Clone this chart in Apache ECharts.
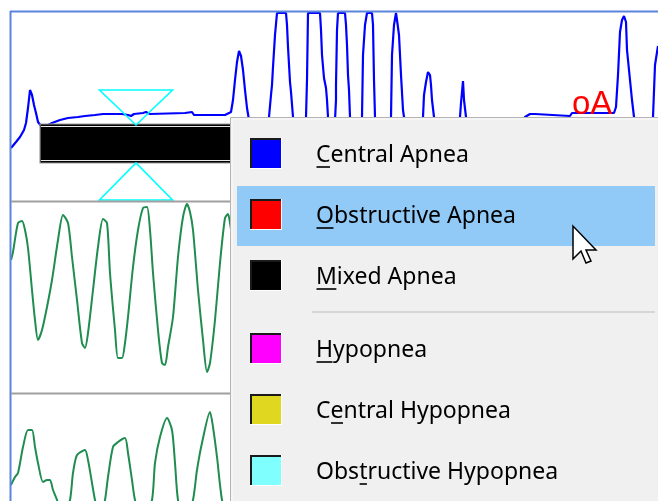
<!DOCTYPE html>
<html>
<head>
<meta charset="utf-8">
<script src="https://cdn.jsdelivr.net/npm/echarts@6/dist/echarts.min.js"></script>
<style>
html,body{margin:0;padding:0;background:#fff;}
#chart{width:658px;height:501px;}
</style>
</head>
<body>
<div id="chart"></div>
<script>
// ---- data (time in samples, amplitude in arbitrary units) ----
const flowSignal = [[1,-42],[6,-36],[10,-31],[14,-24],[16,-17],[18,-2],[20,16],[21,18],[22,11],[24,1],[26,-7],[28,-16],[31,-20],[36,-20],[42,-17],[50,-14],[58,-12],[68,-11],[75,-10],[85,-9],[93,-8],[112,-8],[118,-9],[121,-10],[124,-8],[133,-7],[136,-6],[140,-8],[175,-7],[175,-6],[182,-6],[184,-9],[215,-9],[221,-6],[223,6],[225,26],[227,44],[229,55],[231,50],[233,36],[235,16],[237,-2],[239,-14],[242,-34],[250,-44],[256,-39],[259,-11],[261,11],[262,21],[263,39],[265,71],[267,93],[276,93],[277,81],[278,59],[280,24],[281,14],[283,-11],[286,-39],[293,-42],[296,-11],[297,26],[298,93],[310,93],[311,76],[312,51],[314,28],[316,18],[317,6],[318,-11],[321,-39],[324,-34],[326,6],[326,21],[327,76],[328,93],[335,93],[336,81],[337,61],[338,31],[339,16],[340,-11],[343,-39],[349,-39],[352,-11],[353,51],[355,81],[357,93],[362,93],[363,81],[364,26],[365,-11],[368,-39],[378,-39],[381,-11],[382,51],[384,81],[386,93],[387,86],[389,71],[391,31],[393,-4],[394,-11],[397,-39],[409,-39],[413,-11],[414,11],[416,24],[418,34],[420,31],[421,21],[422,6],[424,-11],[427,-34],[447,-34],[450,-11],[451,3],[453,25],[454,6],[456,-11],[459,-34],[510,-29],[515,-11],[517,-10],[520,-8],[525,-8],[527,-10],[560,-10],[562,-7],[604,-7],[606,-1],[608,31],[610,74],[612,86],[614,90],[616,84],[617,56],[620,26],[622,6],[624,-11],[627,-34],[640,-34],[643,-11],[645,41],[648,60]];
const thoraxSignal = [[1,37],[3,45],[8,74],[12,76],[15,67],[18,49],[22,7],[25,-23],[28,-43],[32,-33],[37,-10],[42,17],[48,57],[53,82],[58,74],[62,40],[67,-3],[72,-46],[75,-51],[78,-36],[83,7],[88,50],[93,78],[97,74],[100,24],[105,-33],[108,-61],[112,-61],[115,-46],[118,-20],[123,30],[128,67],[133,89],[137,90],[140,67],[143,24],[148,-33],[152,-66],[155,-68],[158,-50],[163,-20],[168,40],[173,80],[177,93],[180,85],[183,67],[188,7],[193,-43],[197,-75],[200,-66],[205,-23],[210,34],[215,79],[218,83],[220,74],[224,47],[228,10]];
const abdomenSignal = [[1,4],[5,12],[8,16],[13,42],[18,59],[22,59],[25,42],[28,26],[33,7],[37,9],[40,9],[43,-1],[47,-11],[53,-31],[60,-11],[63,16],[67,34],[75,39],[78,29],[82,6],[85,-11],[90,-31],[95,-11],[98,12],[103,42],[108,47],[115,51],[118,36],[122,9],[125,-11],[133,-36],[142,-11],[145,26],[150,52],[157,71],[162,59],[165,26],[168,-11],[175,-36],[183,-11],[187,19],[192,46],[200,77],[203,62],[207,32],[212,-11],[218,-31],[224,-20]];
// mixed apnea event: start, end, upper amp, lower amp
const mixedApnea = [[30, 410, -18, -57]];
// hypopnea marker: centre, width, top base, top apex, bottom apex, bottom base
const hypopneaMarker = [[126, 73, 16, -19, -57, -94]];
// event label: time, amp, text
const eventLabel = [[562, 1, 'oA']];
// context menu
const menuLabels = ['Central Apnea','Obstructive Apnea','Mixed Apnea','Hypopnea','Central Hypopnea','Obstructive Hypopnea'];
const menuColors = ['#0000ff','#ff0000','#000000','#ff00ff','#e0d820','#80ffff'];
const menuMnemonic = [0,0,0,0,1,3];
const menuHighlighted = 1;

// ---- chart ----
const chart = echarts.init(document.getElementById('chart'), null, {renderer:'canvas'});
const grids = [
  {left:10, top:11, width:648, height:190, show:false},
  {left:10, top:202, width:648, height:190, show:false},
  {left:10, top:394, width:648, height:107, show:false}
];
const yRanges = [[-95,95],[-95,95],[-12,95]];
const xAxes = grids.map((g,i) => ({type:'value', gridIndex:i, min:0, max:648, show:false}));
const yAxes = grids.map((g,i) => ({type:'value', gridIndex:i, min:yRanges[i][0], max:yRanges[i][1], show:false}));

const MENU_FONT = '23px "Noto Sans"';
const mctx = document.createElement('canvas').getContext('2d');
mctx.font = MENU_FONT;

const gfx = [];
// frame
const frameBlue = '#5b84dc';
gfx.push({type:'line', z:50, shape:{x1:10,y1:11.5,x2:658,y2:11.5}, style:{stroke:frameBlue, lineWidth:2}});
gfx.push({type:'line', z:50, shape:{x1:10.5,y1:11,x2:10.5,y2:501}, style:{stroke:frameBlue, lineWidth:2}});
gfx.push({type:'line', z:50, shape:{x1:11,y1:201.5,x2:300,y2:201.5}, style:{stroke:'#a0a0a0', lineWidth:2}});
gfx.push({type:'line', z:50, shape:{x1:11,y1:393.5,x2:300,y2:393.5}, style:{stroke:'#a0a0a0', lineWidth:2}});
// menu
const mx = 231, my = 118;
gfx.push({type:'rect', z:100, shape:{x:mx-0.5, y:my-0.5, width:460, height:420}, style:{fill:'#f0f0f0', stroke:'#b4b4b4', lineWidth:1}});
gfx.push({type:'line', z:101, shape:{x1:mx+1,y1:my+1,x2:700,y2:my+1}, style:{stroke:'#fbfbfb', lineWidth:1}});
gfx.push({type:'line', z:101, shape:{x1:mx+1,y1:my+1,x2:mx+1,y2:501}, style:{stroke:'#fbfbfb', lineWidth:1}});
const itemTop = i => 138 + i*61 + (i >= 3 ? 12 : 0);
// highlight
const ht = itemTop(menuHighlighted);
gfx.push({type:'rect', z:102, shape:{x:237, y:ht-13, width:418, height:60}, style:{fill:'#91c9f7'}});
// separator
gfx.push({type:'line', z:102, shape:{x1:312,y1:312,x2:655,y2:312}, style:{stroke:'#d7d7d7', lineWidth:2}});
menuLabels.forEach((lab, i) => {
  const t = itemTop(i);
  gfx.push({type:'rect', z:103, shape:{x:250, y:t, width:32, height:31}, style:{fill:'#ffffff'}});
  gfx.push({type:'rect', z:104, shape:{x:250, y:t, width:31, height:30}, style:{fill:'#1a1a1a'}});
  gfx.push({type:'rect', z:105, shape:{x:252, y:t+2, width:29, height:28}, style:{fill:menuColors[i]}});
  const tx = 316, base = t + 24;
  gfx.push({type:'text', z:106, x:tx, y:base - 6.7, style:{text:lab, font:MENU_FONT, fill:'#000000', align:'left', verticalAlign:'middle'}});
  const k = menuMnemonic[i];
  const u0 = tx + mctx.measureText(lab.slice(0,k)).width;
  const u1 = tx + mctx.measureText(lab.slice(0,k+1)).width;
  gfx.push({type:'line', z:106, shape:{x1:u0+0.5, y1:base+5, x2:u1-0.5, y2:base+5}, style:{stroke:'#000000', lineWidth:1.6}});
});
// cursor
const cx = 573, cy = 226;
const arrow = [[0,0],[0,33],[8,25],[13,37],[18,35],[13,24],[23,24]].map(p => [cx+p[0], cy+p[1]]);
gfx.push({type:'polygon', z:120, shape:{points:arrow}, style:{fill:'#ffffff', stroke:'#000000', lineWidth:1.5, lineJoin:'miter'}});

const option = {
  animation:false,
  backgroundColor:'#ffffff',
  grid:grids,
  xAxis:xAxes,
  yAxis:yAxes,
  series:[
    {type:'line', xAxisIndex:0, yAxisIndex:0, data:flowSignal, showSymbol:false, clip:true, lineStyle:{color:'#0000ff', width:2.2}, z:3},
    {type:'line', xAxisIndex:1, yAxisIndex:1, data:thoraxSignal, showSymbol:false, clip:true, smooth:0.25, lineStyle:{color:'#1f8c50', width:2}},
    {type:'line', xAxisIndex:2, yAxisIndex:2, data:abdomenSignal, showSymbol:false, clip:true, smooth:0.25, lineStyle:{color:'#1f8c50', width:2}},
    {type:'custom', xAxisIndex:0, yAxisIndex:0, data:mixedApnea, z:4, clip:false,
      renderItem:(params, api) => {
        const p0 = api.coord([api.value(0), api.value(2)]);
        const p1 = api.coord([api.value(1), api.value(3)]);
        return {type:'group', children:[
          {type:'rect', shape:{x:p0[0], y:p0[1], width:p1[0]-p0[0], height:p1[1]-p0[1]}, style:{fill:'#000000', stroke:'#9a9a9a', lineWidth:1.2}},
          {type:'line', shape:{x1:p0[0]+1, y1:p0[1]+2.5, x2:p1[0], y2:p0[1]+2.5}, style:{stroke:'#e8e8e8', lineWidth:1}},
          {type:'line', shape:{x1:p0[0]+1, y1:p1[1]-2.5, x2:p1[0], y2:p1[1]-2.5}, style:{stroke:'#e8e8e8', lineWidth:1}}
        ]};
      }},
    {type:'custom', xAxisIndex:0, yAxisIndex:0, data:hypopneaMarker, z:5, clip:false,
      renderItem:(params, api) => {
        const c = api.value(0), w = api.value(1);
        const tl = api.coord([c-w/2, api.value(2)]), tr = api.coord([c+w/2, api.value(2)]), ta = api.coord([c, api.value(3)]);
        const ba = api.coord([c, api.value(4)]), bl = api.coord([c-w/2, api.value(5)]), br = api.coord([c+w/2, api.value(5)]);
        const st = {fill:null, stroke:'#00ffff', lineWidth:1.6};
        return {type:'group', children:[
          {type:'polygon', shape:{points:[tl,tr,ta]}, style:st},
          {type:'polygon', shape:{points:[bl,br,ba]}, style:st}
        ]};
      }},
    {type:'custom', xAxisIndex:0, yAxisIndex:0, data:eventLabel, z:6, clip:false,
      renderItem:(params, api) => {
        const p = api.coord([api.value(0), api.value(1)]);
        return {type:'text', x:p[0], y:p[1], style:{text:eventLabel[params.dataIndex][2], font:'33px "Liberation Sans"', fill:'#ff0000', align:'left', verticalAlign:'middle'}};
      }}
  ],
  graphic:{elements:gfx}
};
chart.setOption(option);
</script>
</body>
</html>
